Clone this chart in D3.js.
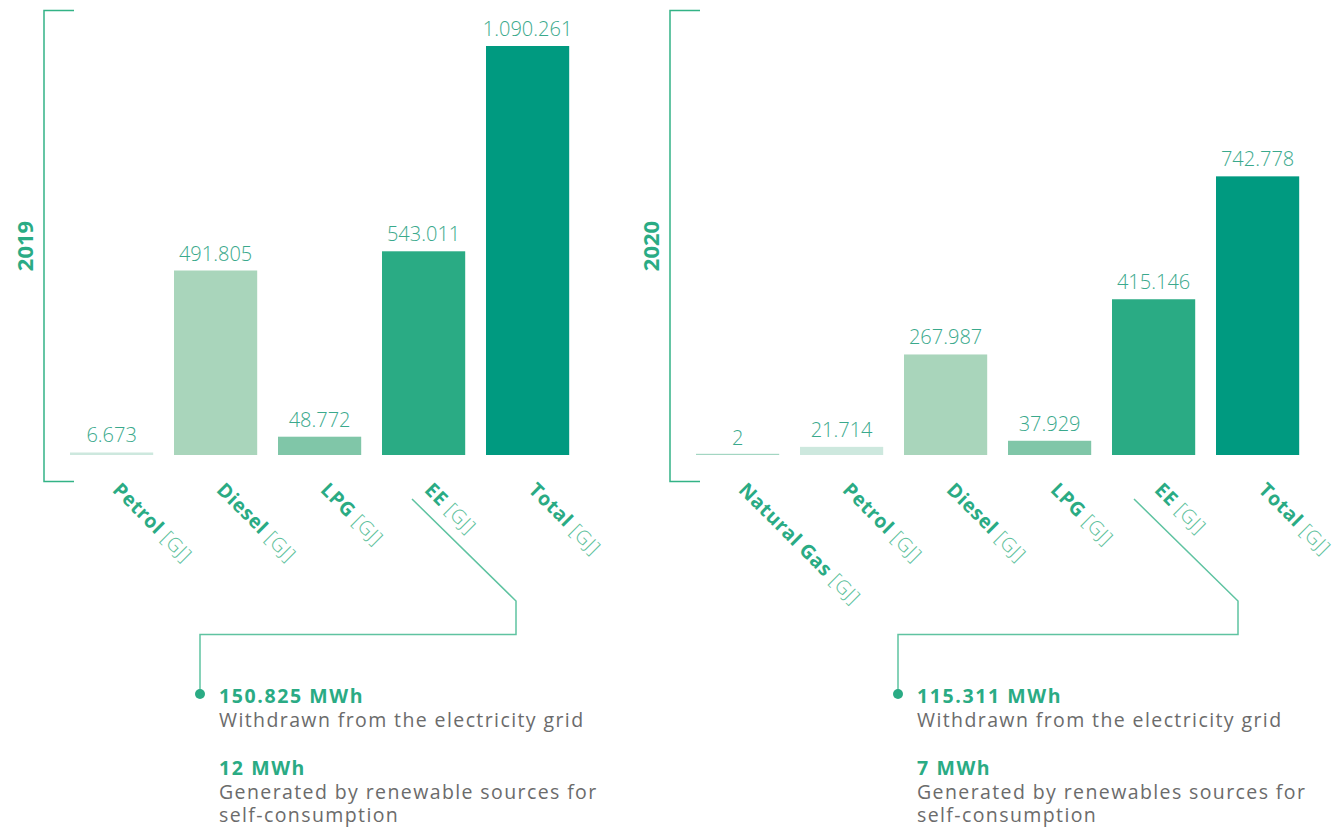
<!DOCTYPE html>
<html>
<head>
<meta charset="utf-8">
<script src="https://cdn.jsdelivr.net/npm/d3@7"></script>
<style>
  html, body { margin: 0; padding: 0; background: #fff; }
  svg { display: block; font-family: "Open Sans", sans-serif; }
</style>
</head>
<body>
<svg id="chart" width="1332" height="829"></svg>
<script>
// data
const CATS_2019 = ["Petrol", "Diesel", "LPG", "EE", "Total"];
const VALS_2019 = [6673, 491805, 48772, 543011, 1090261];
const CATS_2020 = ["Natural Gas", "Petrol", "Diesel", "LPG", "EE", "Total"];
const VALS_2020 = [2, 21714, 267987, 37929, 415146, 742778];
const UNIT = "[GJ]";
const NOTES_2019 = [
    ["150.825 MWh", "Withdrawn from the electricity grid"],
    ["12 MWh", "Generated by renewable sources for", "self-consumption"]
];
const NOTES_2020 = [
    ["115.311 MWh", "Withdrawn from the electricity grid"],
    ["7 MWh", "Generated by renewables sources for", "self-consumption"]
];

const COLORS = {
    "Natural Gas": "#a3d6c2",
    "Petrol": "#cde8de",
    "Diesel": "#a9d5bb",
    "LPG": "#80c6a8",
    "EE": "#2aab84",
    "Total": "#009a80"
};
const GREEN = "#2aab84";
const LINE = "#5fc3a1";
const VALUE_COLOR = "#3aa98c";
const GREY = "#6b6b6b";

const BASELINE = 455;
const STEP = 104;

const fmt = d3.formatLocale({ decimal: ",", thousands: ".", grouping: [3], currency: ["", "€"] }).format(",");

const svg = d3.select("#chart");

// one shared value scale for both years
const y = d3.scaleLinear()
    .domain([0, d3.max(VALS_2019.concat(VALS_2020))])
    .range([BASELINE, 46]);

const panels = [
    { year: "2019", cats: CATS_2019, vals: VALS_2019, notes: NOTES_2019, bracketX: 44, dotX: 200, leadOffset: -11.6 },
    { year: "2020", cats: CATS_2020, vals: VALS_2020, notes: NOTES_2020, bracketX: 670, dotX: 898, leadOffset: -19.6 }
];

panels.forEach((p) => {
    const g = svg.append("g");
    const r0 = p.bracketX + 15.6;

    const x = d3.scaleBand()
        .domain(p.cats)
        .range([r0, r0 + STEP * p.cats.length])
        .paddingInner(0.2)
        .paddingOuter(0.1);

    // bracket
    g.append("path")
        .attr("d", `M${p.bracketX + 30},10.5H${p.bracketX}V481.5H${p.bracketX + 30}`)
        .attr("fill", "none")
        .attr("stroke", "#33b386")
        .attr("stroke-width", 1.5);

    // year
    g.append("text")
        .attr("transform", `translate(${p.bracketX - 11},246) rotate(-90)`)
        .attr("text-anchor", "middle")
        .attr("fill", GREEN)
        .style("font-size", "22px")
        .style("font-weight", 700)
        .text(p.year);

    const data = p.cats.map((c, i) => ({ cat: c, val: p.vals[i] }));

    g.selectAll(".bar")
        .data(data)
        .enter()
        .append("rect")
        .attr("class", "bar")
        .attr("x", (d) => x(d.cat))
        .attr("width", x.bandwidth())
        .attr("y", (d) => Math.min(y(d.val), BASELINE - 1.2))
        .attr("height", (d) => Math.max(BASELINE - y(d.val), 1.2))
        .attr("fill", (d) => COLORS[d.cat]);

    g.selectAll(".value")
        .data(data)
        .enter()
        .append("text")
        .attr("class", "value")
        .attr("x", (d) => x(d.cat) + x.bandwidth() / 2)
        .attr("y", (d) => y(d.val) - 10)
        .attr("text-anchor", "middle")
        .attr("fill", VALUE_COLOR)
        .style("font-size", "20px")
        .style("font-weight", 300)
        .text((d) => fmt(d.val));

    const labels = g.selectAll(".cat-label")
        .data(data)
        .enter()
        .append("text")
        .attr("class", "cat-label")
        .attr("transform", (d) => `translate(${x(d.cat) + x.bandwidth() / 2},491) rotate(45)`)
        .style("font-size", "19.5px");
    labels.append("tspan")
        .attr("fill", GREEN)
        .style("font-weight", 700)
        .style("letter-spacing", "0.6px")
        .text((d) => d.cat);
    labels.append("tspan")
        .attr("fill", "#5dbf9b")
        .style("font-weight", 300)
        .style("letter-spacing", "0.6px")
        .text(" " + UNIT);

    // leader line from the EE label down to the notes
    const sx = x("EE") + x.bandwidth() / 2 + p.leadOffset;
    g.append("path")
        .attr("d", `M${sx},499L${sx + 104},601V634.5H${p.dotX}V694`)
        .attr("fill", "none")
        .attr("stroke", LINE)
        .attr("stroke-width", 1.5);
    g.append("circle")
        .attr("cx", p.dotX)
        .attr("cy", 694)
        .attr("r", 5)
        .attr("fill", GREEN);

    // notes
    const tx = p.dotX + 19;
    const baselines = [[703, 727], [775, 799, 822]];
    p.notes.forEach((note, ni) => {
        note.forEach((line, li) => {
            g.append("text")
                .attr("x", tx)
                .attr("y", baselines[ni][li])
                .attr("fill", li === 0 ? GREEN : GREY)
                .style("font-size", "19.5px")
                .style("font-weight", li === 0 ? 700 : 400)
                .style("letter-spacing", li === 0 ? "1.6px" : "1.4px")
                .text(line);
        });
    });
});
</script>
</body>
</html>
